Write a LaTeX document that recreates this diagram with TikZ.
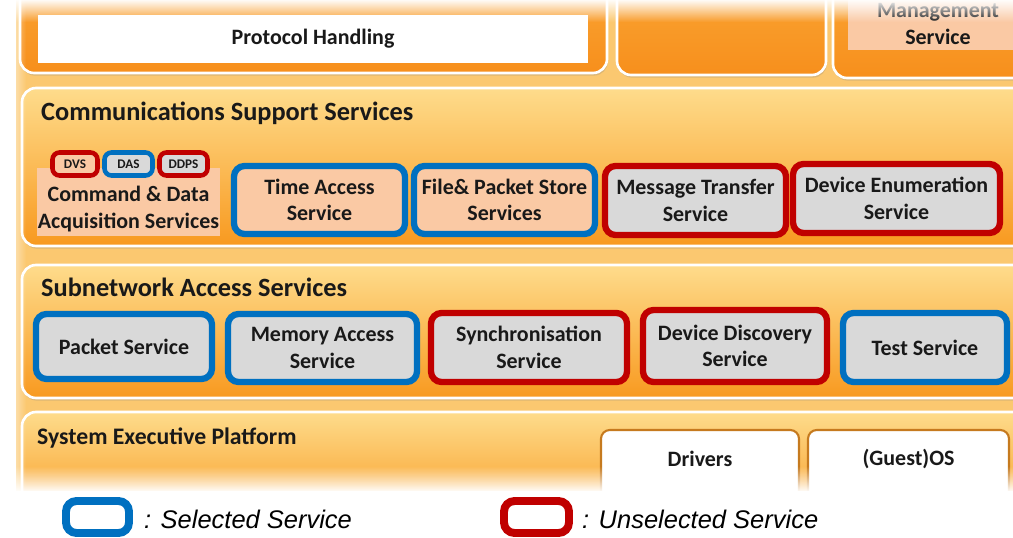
\documentclass[tikz,border=0pt]{standalone}
\usepackage{fontspec}
\setmainfont{Carlito}
\newfontfamily\legendfont{Liberation Sans}
\usetikzlibrary{fadings,shadows}

\definecolor{selblue}{HTML}{0070C0}
\definecolor{unselred}{HTML}{C00000}
\definecolor{svcgrey}{HTML}{D9D9D9}
\definecolor{svcpeach}{HTML}{FAC9A4}
\definecolor{bandtop}{HTML}{FEDC8C}
\definecolor{bandmid}{HTML}{FCCB6A}
\definecolor{bandbot}{HTML}{F8991F}
\definecolor{orangetop}{HTML}{FAA534}
\definecolor{orangebot}{HTML}{F78F1C}
\definecolor{bgorange}{HTML}{FBC870}
\definecolor{drvborder}{HTML}{C67A1E}

\tikzfading[name=fadedown, top color=transparent!0, bottom color=transparent!100]
\tikzfading[name=fadeup, top color=transparent!100, bottom color=transparent!0]
\tikzfading[name=faderight, left color=transparent!0, right color=transparent!100]

\begin{document}
\begin{tikzpicture}
  [x=0.02cm,y=-0.02cm,
   every node/.style={font=\bfseries\fontsize{12.5}{15}\selectfont,align=center,text=black!90},
   wh/.style 2 args={minimum width=#1*0.02cm,minimum height=#2*0.02cm,inner sep=0pt},
   panel/.style={draw=white,line width=1.5pt,rounded corners=8pt,
     top color=bandtop,middle color=bandmid,bottom color=bandbot,
     drop shadow={opacity=.25,shadow xshift=.5pt,shadow yshift=-1.5pt}},
   toppanel/.style={draw=white,line width=1.5pt,rounded corners=8pt,
     top color=orangetop,bottom color=orangebot,
     drop shadow={opacity=.25,shadow xshift=.5pt,shadow yshift=-1.5pt}},
   title/.style={anchor=west,font=\bfseries\fontsize{15}{17}\selectfont},
   sel/.style={draw=selblue,line width=3.6pt,rounded corners=6pt,fill=svcgrey},
   unsel/.style={draw=unselred,line width=3.6pt,rounded corners=6pt,fill=svcgrey},
   tag/.style={line width=2.6pt,rounded corners=4pt,fill=svcgrey,
     font=\bfseries\fontsize{7.5}{8}\selectfont},
   drv/.style={draw=drvborder,line width=1.2pt,rounded corners=5pt,fill=white},
   legbox/.style={line width=4.5pt,rounded corners=6pt,fill=white},
   legtext/.style={anchor=west,font=\legendfont\itshape\fontsize{14.5}{17}\selectfont,text=black}]
  \useasboundingbox (0,0) rectangle (1013,537);
  \clip (0,0) rectangle (1013,537);
  \fill[white] (0,0) rectangle (1013,537);
  \fill[bgorange] (16,-10) rectangle (1030,500);

  % upper layer
  \draw[toppanel] (20,-20) rectangle (607,73);
  \draw[toppanel] (617,-20) rectangle (826,75);
  \draw[toppanel] (833,-20) rectangle (1040,78);
  \node[wh={550}{48},fill=white] (proto) at (313,39) {Protocol Handling};
  \node[wh={180}{68},fill=svcpeach] (mgmt) at (938,16) {};
  \node (mgmtlbl) at (938,24) {Management\\Service};

  % communications support services
  \draw[panel] (22,88) rectangle (1030,246);
  \node[title] (commtitle) at (35,113) {Communications Support Services};
  \node[wh={183}{68},fill=svcpeach] (cdas) at (128.5,202) {};
  \node (cdaslbl) at (128.5,209) {Command \& Data\\Acquisition Services};
  \node[tag,draw=unselred,fill=svcpeach,wh={45}{23}] (dvs) at (75,164) {DVS};
  \node[tag,draw=selblue,wh={48}{23}] (das) at (128.5,164) {DAS};
  \node[tag,draw=unselred,wh={48}{23}] (ddps) at (183.5,164) {DDPS};
  \node[sel,fill=svcpeach,wh={171}{68}] (timeacc) at (319.5,200) {Time Access\\Service};
  \node[sel,fill=svcpeach,wh={181}{68}] (filestore) at (504.5,200) {File\& Packet Store\\Services};
  \node[unsel,wh={181}{69}] (msgtrans) at (695.5,200.5) {Message Transfer\\Service};
  \node[unsel,wh={207}{69}] (devenum) at (896.5,198.5) {Device Enumeration\\Service};

  % subnetwork access services
  \draw[panel] (22,265) rectangle (1030,398);
  \node[title] (subtitle) at (35,287) {Subnetwork Access Services};
  \node[sel,wh={176}{65}] (packet) at (124,346.5) {Packet Service};
  \node[sel,wh={189}{68}] (memacc) at (322.5,348) {Memory Access\\Service};
  \node[unsel,wh={196}{69}] (sync) at (529,347.5) {Synchronisation\\Service};
  \node[unsel,wh={184}{72}] (devdisc) at (735,346) {Device Discovery\\Service};
  \node[sel,wh={164}{69}] (test) at (925,347.5) {Test Service};

  % system executive platform
  \draw[panel] (22,412) rectangle (1030,520);
  \node[title,font=\bfseries\fontsize{13.5}{15}\selectfont] (sysexec) at (31,438) {System Executive Platform};
  \node[drv,wh={198}{70}] (drivers) at (700,465) {};
  \node (driverslbl) at (700,459) {Drivers};
  \node[drv,wh={201}{70}] (guestos) at (908.5,465) {};
  \node (guestoslbl) at (908.5,459) {(Guest)OS};

  % fading edges of the screenshot
  \fill[white,path fading=fadedown] (0,-1) rectangle (1013,22);
  \fill[white,path fading=faderight] (0,-1) rectangle (26,495);
  \fill[white,path fading=fadeup] (0,466) rectangle (1013,492);
  \fill[white] (0,491) rectangle (1013,538);

  % legend
  \node[legbox,draw=selblue,wh={63}{32}] (selkey) at (97.5,517) {};
  \node[legtext] (sellbl) at (138,519) {: Selected Service};
  \node[legbox,draw=unselred,wh={65}{32}] (unselkey) at (536.5,517) {};
  \node[legtext] (unsellbl) at (576,519) {: Unselected Service};
\end{tikzpicture}
\end{document}
